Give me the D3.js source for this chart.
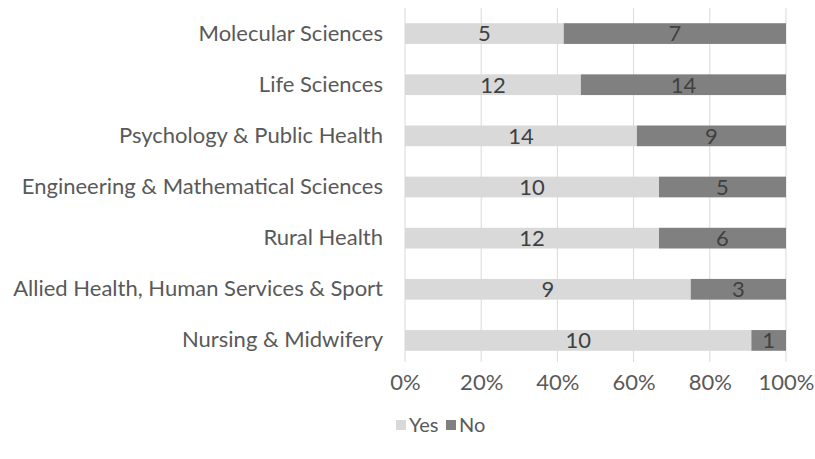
<!DOCTYPE html>
<html>
<head>
<meta charset="utf-8">
<script src="https://cdn.jsdelivr.net/npm/d3@7"></script>
<style>
  body { margin: 0; background: #fff; }
  text { font-family: Lato, "Open Sans", sans-serif; }
</style>
</head>
<body>
<div id="chart"></div>
<script>
const categories = [
  "Molecular Sciences",
  "Life Sciences",
  "Psychology & Public Health",
  "Engineering & Mathematical Sciences",
  "Rural Health",
  "Allied Health, Human Services & Sport",
  "Nursing & Midwifery"
];
const yesValues = [5, 12, 14, 10, 12, 9, 10];
const noValues = [7, 14, 9, 5, 6, 3, 1];
const seriesNames = ["Yes", "No"];
const tickValues = [0, 0.2, 0.4, 0.6, 0.8, 1];

const width = 815, height = 459;
const fontSize = 22;

const svg = d3.select("#chart")
  .append("svg")
  .attr("width", width)
  .attr("height", height);

const rows = categories.map((c, i) => ({ cat: c, Yes: yesValues[i], No: noValues[i] }));
const stacked = d3.stack()
  .keys(seriesNames)
  .offset(d3.stackOffsetExpand)(rows);

const x = d3.scaleLinear()
  .domain([0, 1])
  .range([405, 786]);

const y = d3.scaleBand()
  .domain(categories)
  .range([8, 366])
  .paddingInner(0.595)
  .paddingOuter(0.2975);

const color = d3.scaleOrdinal()
  .domain(seriesNames)
  .range(["#d9d9d9", "#808080"]);

// gridlines
svg.append("g")
  .selectAll("line")
  .data(tickValues)
  .join("line")
  .attr("x1", d => x(d))
  .attr("x2", d => x(d))
  .attr("y1", 8)
  .attr("y2", 362)
  .attr("stroke", "#d9d9d9")
  .attr("stroke-width", 1);

// bars
const layers = svg.selectAll(".layer")
  .data(stacked)
  .join("g")
  .attr("fill", d => color(d.key));

layers.selectAll("rect")
  .data(d => d)
  .join("rect")
  .attr("x", d => x(d[0]))
  .attr("y", d => y(d.data.cat))
  .attr("width", d => x(d[1]) - x(d[0]))
  .attr("height", y.bandwidth());

// data labels
stacked.forEach(layer => {
  svg.append("g")
    .selectAll("text")
    .data(layer)
    .join("text")
    .attr("x", d => (x(d[0]) + x(d[1])) / 2)
    .attr("y", d => y(d.data.cat) + y.bandwidth() / 2)
    .attr("dy", "0.36em")
    .attr("text-anchor", "middle")
    .style("font-size", fontSize + "px")
    .attr("fill", "#404040")
    .text(d => d.data[layer.key]);
});

// category labels
svg.append("g")
  .call(d3.axisLeft(y).tickSize(0).tickPadding(0))
  .attr("transform", "translate(383,0)")
  .call(g => g.select(".domain").remove())
  .call(g => g.selectAll("text")
    .attr("fill", "#595959")
    .style("font-size", fontSize + "px")
    .style("font-family", "Lato"));

// x tick labels
svg.append("g")
  .attr("transform", "translate(0,366)")
  .call(d3.axisBottom(x).tickValues(tickValues).tickFormat(d3.format(".0%")).tickSize(0).tickPadding(0))
  .call(g => g.select(".domain").remove())
  .call(g => g.selectAll("text")
    .attr("y", 16)
    .attr("dy", "0.36em")
    .attr("fill", "#595959")
    .style("font-size", fontSize + "px")
    .style("font-family", "Lato"));

// legend
const legend = svg.append("g")
  .attr("transform", "translate(396,425)");

seriesNames.forEach((name, i) => {
  const lx = i === 0 ? 0 : 50;
  legend.append("rect")
    .attr("x", lx)
    .attr("y", -5)
    .attr("width", 10)
    .attr("height", 10)
    .attr("fill", color(name));
  legend.append("text")
    .attr("x", lx + 13)
    .attr("y", 0)
    .attr("dy", "0.36em")
    .attr("fill", "#595959")
    .style("font-size", "20px")
    .text(name);
});
</script>
</body>
</html>
